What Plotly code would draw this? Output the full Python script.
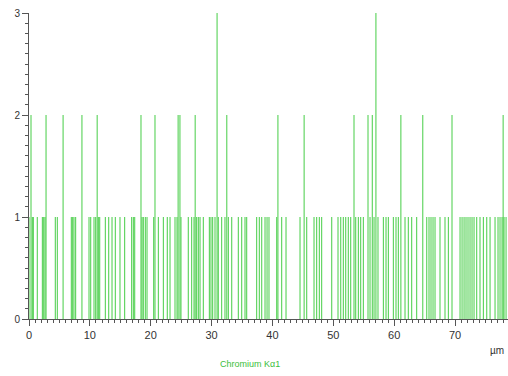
import plotly.graph_objects as go

# Spike positions (µm), grouped by count value
count1_um = [0.0, 0.54, 0.71, 1.36, 2.19, 2.42, 2.63, 4.32, 4.65, 6.95, 7.18, 7.39, 7.67,
             9.86, 10.14, 10.68, 10.96, 11.39, 11.62, 12.54, 13.10, 13.64, 14.18, 14.95,
             15.72, 16.87, 17.14, 17.37, 18.57, 18.78, 19.11, 19.39, 20.49, 21.25, 22.07,
             22.72, 23.17, 23.99, 24.32, 24.97, 26.17, 26.73, 27.11, 27.55, 27.82, 28.10,
             28.64, 29.63, 29.90, 30.18, 30.56, 31.10, 31.66, 32.20, 32.75, 33.31, 34.39,
             34.95, 35.49, 35.77, 37.41, 37.84, 38.24, 38.78, 39.11, 39.43, 40.70, 41.52,
             42.23, 44.53, 45.63, 46.83, 47.27, 47.70, 48.09, 49.74, 50.77, 51.22, 51.64,
             52.04, 52.46, 52.86, 53.68, 54.11, 54.50, 54.93, 56.03, 56.69, 57.34, 58.22,
             58.66, 59.04, 59.86, 60.30, 60.68, 61.78, 62.32, 62.88, 63.70, 65.35, 65.72,
             66.05, 66.38, 66.71, 67.53, 68.35, 68.90, 70.82, 71.15, 71.48, 71.80, 72.13,
             72.46, 72.79, 73.12, 73.56, 74.10, 74.65, 75.21, 75.75, 76.57, 77.06, 77.39,
             77.72, 78.05, 78.38]
count2_um = [0.33, 2.8, 5.6, 8.7, 11.2, 18.4, 20.7, 24.5, 24.8, 27.3, 32.5, 40.9, 45.2,
             53.4, 55.7, 56.4, 61.1, 64.7, 69.5, 77.9]
count3_um = [30.9, 57.0]

series_label = "Chromium K\u03b11"
unit_label = "\u00b5m"

xs, ys = [], []
for vals, c in ((count1_um, 1), (count2_um, 2), (count3_um, 3)):
    for x in vals:
        xs += [x, x, None]
        ys += [0, c, None]

fig = go.Figure()
fig.add_trace(go.Scatter(x=xs, y=ys, mode="lines",
                         line=dict(color="rgb(70,205,70)", width=1),
                         hoverinfo="skip", showlegend=False, cliponaxis=False))

axis_col = "#555555"
fig.update_layout(
    width=508, height=376,
    margin=dict(l=29, r=0, t=13, b=57),
    paper_bgcolor="white", plot_bgcolor="white",
    font=dict(family="Liberation Sans, Arial, sans-serif", size=10, color="#333333"),
    xaxis=dict(range=[0, 78.7], showgrid=False, zeroline=False, automargin=False,
               showline=True, linecolor=axis_col, linewidth=1,
               tickmode="linear", tick0=0, dtick=10, ticks="outside",
               ticklen=6, tickcolor=axis_col, ticklabeloverflow="allow",
               minor=dict(dtick=1, ticks="outside", ticklen=3, tickcolor=axis_col),
               tickfont=dict(size=11, color="#333333")),
    yaxis=dict(range=[0, 3.0], showgrid=False, zeroline=False, automargin=False,
               showline=True, linecolor=axis_col, linewidth=1,
               tickmode="linear", tick0=0, dtick=1, ticks="outside",
               ticklen=6, tickcolor=axis_col, ticklabeloverflow="allow",
               minor=dict(dtick=0.1, ticks="outside", ticklen=3, tickcolor=axis_col),
               tickfont=dict(size=10, color="#333333")),
    annotations=[
        dict(text=series_label, x=0.461, y=-0.124, xref="paper", yref="paper",
             xanchor="center", yanchor="top", showarrow=False,
             font=dict(size=9, color="rgb(60,190,60)")),
        dict(text=unit_label, x=0.996, y=-0.08, xref="paper", yref="paper",
             xanchor="right", yanchor="top", showarrow=False,
             font=dict(size=10, color="#333333")),
    ],
)

fig.write_html("out.html", config={"displayModeBar": False},
               post_script="document.body.style.margin='0';")
